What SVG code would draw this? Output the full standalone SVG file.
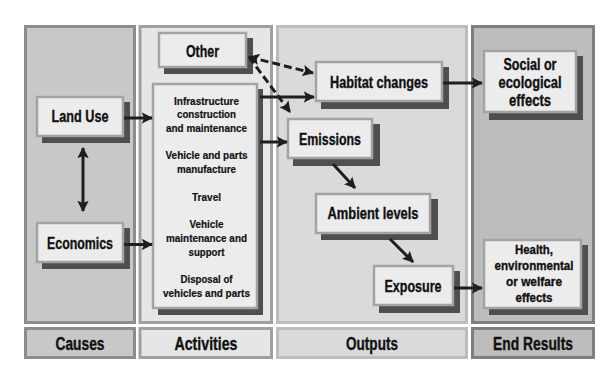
<svg xmlns="http://www.w3.org/2000/svg" width="613" height="376" viewBox="0 0 613 376">
<defs>
<marker id="ah" viewBox="0 0 10 10" refX="9" refY="5" markerWidth="3.8" markerHeight="3.8" orient="auto-start-reverse" markerUnits="strokeWidth">
<path d="M0,0 L10,5 L0,10 L2,5 z" fill="#1e1e1e"/>
</marker>
</defs>
<style>
text{font-family:"Liberation Sans",Arial,sans-serif;font-weight:bold;fill:#111;stroke:#111;stroke-width:0.35;text-anchor:middle}
.shadow{fill:#4f4f4f}
.box{fill:#ececec;stroke:#a3a3a3;stroke-width:2.5}
.t16{font-size:17px}
.t15{font-size:16px}
.t13{font-size:13px}
.t11{font-size:11px;stroke-width:0.2}
.t17{font-size:17.5px}
.conn{stroke:#1e1e1e;stroke-width:3;fill:none;marker-end:url(#ah)}
.dash{stroke:#1e1e1e;stroke-width:3;fill:none;stroke-dasharray:8 4}
</style>
<rect width="613" height="376" fill="#ffffff"/>
<g id="columns">
<rect x="25.5" y="26.5" width="109" height="296" fill="#c8c8c8" stroke="#8c8c8c" stroke-width="3"/>
<rect x="140" y="26.5" width="131.5" height="296" fill="#e6e6e6" stroke="#a0a0a0" stroke-width="3"/>
<rect x="277.5" y="26.5" width="189" height="296" fill="#dadada" stroke="#bcbcbc" stroke-width="3"/>
<rect x="472.5" y="26.5" width="121" height="296" fill="#bdbdbd" stroke="#7e7e7e" stroke-width="3"/>
</g>
<g id="label-causes">
<rect x="25.5" y="328.5" width="109" height="29" fill="#c8c8c8" stroke="#8c8c8c" stroke-width="3"/>
<text class="t17" x="80" y="350" textLength="49" lengthAdjust="spacingAndGlyphs">Causes</text>
</g>
<g id="label-activities">
<rect x="140" y="328.5" width="131.5" height="29" fill="#e6e6e6" stroke="#a0a0a0" stroke-width="3"/>
<text class="t17" x="206" y="350" textLength="63" lengthAdjust="spacingAndGlyphs">Activities</text>
</g>
<g id="label-outputs">
<rect x="277.5" y="328.5" width="189" height="29" fill="#dadada" stroke="#bcbcbc" stroke-width="3"/>
<text class="t17" x="372" y="350" textLength="52" lengthAdjust="spacingAndGlyphs">Outputs</text>
</g>
<g id="label-endresults">
<rect x="472.5" y="328.5" width="121" height="29" fill="#bdbdbd" stroke="#7e7e7e" stroke-width="3"/>
<text class="t17" x="533" y="350" textLength="80" lengthAdjust="spacingAndGlyphs">End Results</text>
</g>
<g id="node-other">
<rect class="shadow" x="164" y="38" width="89" height="36"/>
<rect class="box" x="159" y="33" width="87" height="34"/>
<text class="t16" x="202.5" y="56.5" textLength="33" lengthAdjust="spacingAndGlyphs">Other</text>
</g>
<g id="node-landuse">
<rect class="shadow" x="42" y="102" width="88" height="41"/>
<rect class="box" x="37" y="97" width="86" height="39"/>
<text class="t16" x="80" y="122.3" textLength="57" lengthAdjust="spacingAndGlyphs">Land Use</text>
</g>
<g id="node-economics">
<rect class="shadow" x="42" y="228" width="88" height="41"/>
<rect class="box" x="37" y="223" width="86" height="39"/>
<text class="t16" x="80" y="248.7" textLength="66" lengthAdjust="spacingAndGlyphs">Economics</text>
</g>
<g id="node-activities">
<rect class="shadow" x="158" y="89" width="105" height="226"/>
<rect class="box" x="153" y="84" width="104" height="224"/>
<text class="t11" x="206.5" y="105" textLength="65" lengthAdjust="spacingAndGlyphs">Infrastructure</text>
<text class="t11" x="206.5" y="118.3" textLength="59" lengthAdjust="spacingAndGlyphs">construction</text>
<text class="t11" x="206.5" y="131.7" textLength="81" lengthAdjust="spacingAndGlyphs">and maintenance</text>
<text class="t11" x="206.5" y="159.3" textLength="82" lengthAdjust="spacingAndGlyphs">Vehicle and parts</text>
<text class="t11" x="206.5" y="172.7" textLength="59" lengthAdjust="spacingAndGlyphs">manufacture</text>
<text class="t11" x="206.5" y="201" textLength="29" lengthAdjust="spacingAndGlyphs">Travel</text>
<text class="t11" x="206.5" y="228.3" textLength="34" lengthAdjust="spacingAndGlyphs">Vehicle</text>
<text class="t11" x="206.5" y="242" textLength="81" lengthAdjust="spacingAndGlyphs">maintenance and</text>
<text class="t11" x="206.5" y="256" textLength="36" lengthAdjust="spacingAndGlyphs">support</text>
<text class="t11" x="206.5" y="282.7" textLength="52" lengthAdjust="spacingAndGlyphs">Disposal of</text>
<text class="t11" x="206.5" y="297" textLength="87" lengthAdjust="spacingAndGlyphs">vehicles and parts</text>
</g>
<g id="node-habitat">
<rect class="shadow" x="321" y="67" width="128" height="42"/>
<rect class="box" x="316" y="62" width="126" height="39"/>
<text class="t15" x="379" y="88.3" textLength="98" lengthAdjust="spacingAndGlyphs">Habitat changes</text>
</g>
<g id="node-emissions">
<rect class="shadow" x="293" y="124" width="87" height="42"/>
<rect class="box" x="288" y="119" width="84" height="39"/>
<text class="t15" x="330" y="145" textLength="62" lengthAdjust="spacingAndGlyphs">Emissions</text>
</g>
<g id="node-social">
<rect class="shadow" x="489" y="56" width="94" height="64"/>
<rect class="box" x="484" y="51" width="92" height="61"/>
<text class="t15" x="530" y="69.5" textLength="53" lengthAdjust="spacingAndGlyphs">Social or</text>
<text class="t15" x="530" y="87.5" textLength="63" lengthAdjust="spacingAndGlyphs">ecological</text>
<text class="t15" x="530" y="105.5" textLength="42" lengthAdjust="spacingAndGlyphs">effects</text>
</g>
<g id="node-ambient">
<rect class="shadow" x="321" y="199" width="117" height="41"/>
<rect class="box" x="316" y="194" width="114" height="39"/>
<text class="t15" x="373" y="219.3" textLength="91" lengthAdjust="spacingAndGlyphs">Ambient levels</text>
</g>
<g id="node-exposure">
<rect class="shadow" x="379" y="271" width="81" height="42"/>
<rect class="box" x="374" y="266" width="79" height="39"/>
<text class="t15" x="413" y="291.7" textLength="57" lengthAdjust="spacingAndGlyphs">Exposure</text>
</g>
<g id="node-health">
<rect class="shadow" x="489" y="245" width="99" height="70"/>
<rect class="box" x="484" y="240" width="97" height="68"/>
<text class="t13" x="534" y="254.3" textLength="38" lengthAdjust="spacingAndGlyphs">Health,</text>
<text class="t13" x="534" y="270.3" textLength="79" lengthAdjust="spacingAndGlyphs">environmental</text>
<text class="t13" x="534" y="286.3" textLength="56" lengthAdjust="spacingAndGlyphs">or welfare</text>
<text class="t13" x="534" y="302" textLength="37" lengthAdjust="spacingAndGlyphs">effects</text>
</g>
<g id="connectors">
<line class="conn" x1="124" y1="118" x2="152" y2="118"/>
<line class="conn" x1="124" y1="244.5" x2="152" y2="244.5"/>
<line class="conn" x1="83" y1="148" x2="83" y2="211" style="marker-start:url(#ah)"/>
<line class="conn" x1="260" y1="97" x2="314" y2="97"/>
<line class="conn" x1="260" y1="142" x2="287" y2="142"/>
<line class="dash" x1="249" y1="57" x2="313" y2="73" style="marker-end:url(#ah);marker-start:url(#ah)"/>
<line class="dash" x1="249" y1="57" x2="290" y2="112" style="marker-end:url(#ah)"/>
<line class="conn" x1="443" y1="83" x2="482" y2="83"/>
<line class="conn" x1="333" y1="164" x2="355" y2="188"/>
<line class="conn" x1="390" y1="239" x2="413" y2="262"/>
<line class="conn" x1="454" y1="288" x2="482" y2="288"/>
</g>
</svg>
